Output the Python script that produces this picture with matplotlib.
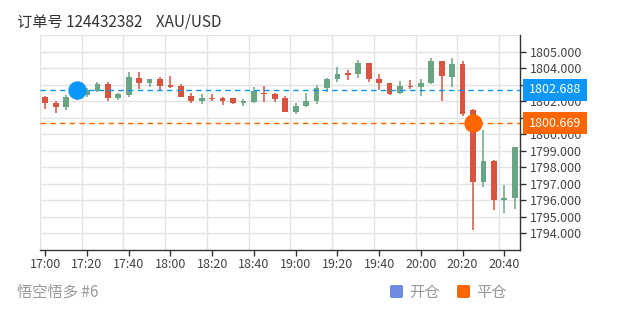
import matplotlib
matplotlib.use("Agg")
import matplotlib.pyplot as plt
from matplotlib.patches import FancyBboxPatch, Rectangle
import numpy as np

plt.rcParams["font.family"] = ["Noto Sans CJK SC", "DejaVu Sans"]

# 5-minute candles, 17:00 .. 20:45
opens = [1802.27, 1801.87, 1801.67, 1802.20, 1802.37, 1802.63, 1803.04, 1802.17, 1802.37, 1803.42,
         1803.08, 1803.34, 1802.98, 1802.92, 1802.33, 1802.03, 1802.21, 1802.17, 1802.17, 1801.91,
         1801.93, 1802.51, 1802.43, 1802.17, 1801.36, 1801.71, 1802.01, 1802.81, 1803.32, 1803.68,
         1803.64, 1804.29, 1803.32, 1803.12, 1802.47, 1802.93, 1802.84, 1803.10, 1804.40, 1803.48,
         1804.27, 1801.45, 1797.10, 1798.38, 1796.05, 1796.13]
highs = [1802.33, 1802.01, 1802.37, 1802.85, 1802.78, 1803.18, 1803.18, 1802.51, 1803.74, 1803.75,
         1803.36, 1803.44, 1803.52, 1803.04, 1802.47, 1802.41, 1802.41, 1802.27, 1802.21, 1802.13,
         1802.84, 1802.92, 1802.51, 1802.33, 1801.87, 1802.51, 1802.98, 1803.38, 1804.08, 1803.88,
         1804.49, 1804.29, 1803.64, 1803.12, 1803.22, 1803.28, 1803.34, 1804.60, 1804.45, 1804.59,
         1804.40, 1801.55, 1800.26, 1798.44, 1796.93, 1799.25]
lows = [1801.53, 1801.27, 1801.47, 1802.10, 1802.27, 1802.57, 1802.03, 1802.07, 1802.27, 1802.75,
        1802.83, 1802.67, 1802.80, 1802.23, 1801.91, 1801.83, 1802.03, 1801.77, 1801.81, 1801.73,
        1801.87, 1801.97, 1801.97, 1801.33, 1801.20, 1801.67, 1801.83, 1802.54, 1803.14, 1803.28,
        1803.42, 1803.14, 1802.67, 1802.37, 1802.43, 1802.72, 1802.33, 1803.05, 1802.03, 1802.87,
        1801.10, 1794.20, 1796.80, 1795.42, 1795.26, 1795.48]
closes = [1801.87, 1801.67, 1802.23, 1802.75, 1802.67, 1803.04, 1802.17, 1802.43, 1803.44, 1803.08,
          1803.34, 1802.93, 1802.88, 1802.27, 1802.03, 1802.17, 1802.11, 1802.03, 1801.91, 1802.01,
          1802.63, 1802.41, 1802.13, 1801.36, 1801.73, 1802.03, 1802.81, 1803.32, 1803.64, 1803.58,
          1804.29, 1803.32, 1803.12, 1802.43, 1802.93, 1802.84, 1803.12, 1804.40, 1803.54, 1804.25,
          1801.20, 1797.10, 1798.38, 1796.02, 1796.12, 1799.21]

tick_labels = ["17:00", "17:20", "17:40", "18:00", "18:20", "18:40",
               "19:00", "19:20", "19:40", "20:00", "20:20", "20:40"]
y_ticks = [1794, 1795, 1796, 1797, 1798, 1799, 1800, 1801, 1802, 1803, 1804, 1805]

open_idx, open_price = 3, 1802.688
close_idx, close_price = 41, 1800.669

up_color = "#6aa583"
down_color = "#d75440"
blue = "#0a96fa"
orange = "#ff6600"

fig = plt.figure(figsize=(6.2, 3.1), dpi=100)
ax = fig.add_axes([40 / 620, 1 - 250 / 310, 480 / 620, 215 / 310])

x = np.arange(len(opens))
o = np.array(opens)
c = np.array(closes)
colors = [up_color if cc >= oo else down_color for oo, cc in zip(o, c)]

ax.vlines(x, lows, highs, colors=colors, linewidth=1.1, zorder=3)
body_low = np.minimum(o, c)
body_h = np.maximum(np.abs(c - o), 0.07)
ax.bar(x, body_h, bottom=body_low, width=0.55, color=colors, zorder=4, linewidth=0)

ax.set_xlim(-0.5, len(opens) - 0.5)
ax.set_ylim(1793, 1806)

# grid
ax.set_yticks(y_ticks)
ax.set_yticklabels([f"{v:.3f}" for v in y_ticks])
ax.set_xticks(np.arange(0, len(opens), 4))
ax.set_xticklabels(tick_labels)
ax.set_xticks(np.arange(-0.5, len(opens), 4), minor=True)
ax.grid(True, axis="y", color="#e3e3e3", linewidth=1, zorder=0)
ax.grid(True, axis="x", which="minor", color="#e3e3e3", linewidth=1, zorder=0)
ax.grid(False, axis="x", which="major")
ax.axhline(1806, color="#e3e3e3", linewidth=1.5, zorder=0)

ax.yaxis.tick_right()
ax.tick_params(axis="y", which="major", length=4, width=1, color="#333333",
               labelsize=9, labelcolor="#444444", pad=3)
ax.tick_params(axis="x", which="major", length=4, width=1, color="#333333",
               labelsize=9, labelcolor="#444444", pad=2)
ax.tick_params(axis="x", which="minor", length=0)
for s in ["top", "left"]:
    ax.spines[s].set_visible(False)
for s in ["bottom", "right"]:
    ax.spines[s].set_color("#333333")
    ax.spines[s].set_linewidth(1)

# position lines
ax.axhline(open_price, color=blue, linewidth=1, linestyle=(0, (4, 3)), zorder=5)
ax.axhline(close_price, color=orange, linewidth=1, linestyle=(0, (4, 3)), zorder=5)
ax.scatter([open_idx], [open_price], s=150, color=blue, zorder=6, clip_on=False)
ax.scatter([close_idx], [close_price], s=150, color=orange, zorder=6, clip_on=False)

# value boxes on the right axis, drawn over the tick labels
y_min, y_max = ax.get_ylim()
for price, col in [(open_price, blue), (close_price, orange)]:
    yc = 1 - (250 - (price - y_min) / (y_max - y_min) * 215) / 310
    fig.patches.append(Rectangle((523 / 620, yc - 11 / 310), 64 / 620, 22 / 310,
                                 transform=fig.transFigure, fc=col, ec="none", zorder=20))
    fig.text(555 / 620, yc, f"{price:.3f}", fontsize=9, color="white",
             ha="center", va="center", zorder=21)

fig.text(17 / 620, 1 - 22 / 310, "订单号 124432382    XAU/USD", fontsize=11,
         color="#333333", va="center", ha="left")
fig.text(17 / 620, 1 - 292 / 310, "悟空悟多 #6", fontsize=11,
         color="#999999", va="center", ha="left")

# legend
for x0, col, label in [(390, "#6b8ae0", "开仓"), (457, orange, "平仓")]:
    fig.patches.append(FancyBboxPatch((x0 / 620, 1 - 298 / 310), 13 / 620, 13 / 310,
                                      boxstyle="round,pad=0,rounding_size=0.004",
                                      transform=fig.transFigure, fc=col, ec="none"))
    fig.text((x0 + 19) / 620, 1 - 292 / 310, label, fontsize=11, color="#999999",
             va="center", ha="left")

fig.savefig("out.png", dpi=100)
